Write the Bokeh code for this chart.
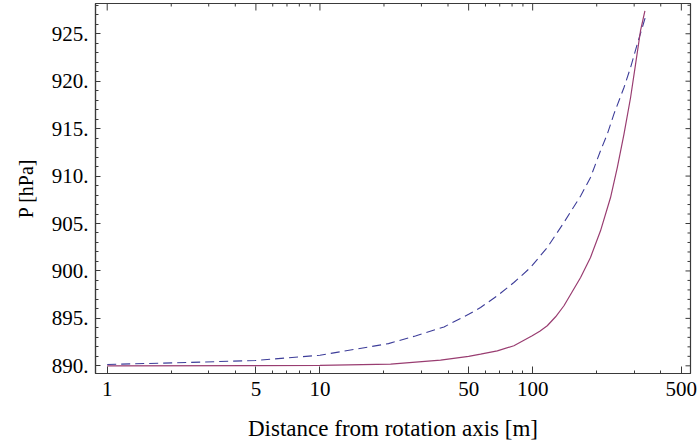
import math
from bokeh.plotting import figure
from bokeh.models import FixedTicker, PrintfTickFormatter, Range1d
from bokeh.embed import file_html
from bokeh.resources import INLINE

# Dashed (blue) series: distance [m], pressure [hPa]
r_dashed = [1, 2.1, 5, 10, 21, 28.1, 38.3, 50, 56.9, 68.2, 81.6, 97.7, 117.1,
            140.3, 168, 187, 208.4, 224.3, 240.9, 268.7, 288.6, 310.2, 327.5, 342]
p_dashed = [890.14, 890.32, 890.56, 891.12, 892.34, 893.15, 894.1, 895.43,
            896.15, 897.38, 898.78, 900.36, 902.47, 905.11, 907.9, 909.85,
            912.67, 914.43, 916.53, 919.34, 921.45, 923.91, 925.66, 927.07]

# Solid (purple) series
r_solid = [1, 5, 10, 21.5, 36.9, 50, 56.9, 68.2, 81.6, 99.5, 108, 117.1, 128.2,
           140.3, 168, 187, 208.4, 232.3, 249.9, 268.7, 288.6, 304.6, 321.4, 337]
p_solid = [890.0, 890.02, 890.05, 890.18, 890.6, 891.0, 891.23, 891.58,
           892.11, 893.16, 893.65, 894.22, 895.17, 896.33, 899.31, 901.42,
           904.23, 907.74, 910.9, 914.43, 918.28, 921.8, 925.32, 927.42]

x_ticks = [1, 5, 10, 50, 100, 500]
x_minor = [2, 3, 4, 6, 7, 8, 9, 20, 30, 40, 60, 70, 80, 90, 200, 300, 400]
y_ticks = [890, 895, 900, 905, 910, 915, 920, 925]
y_minor = list(range(889, 929))

X0, X1 = 0.881, 552
Y0, Y1 = 889.19, 928.19

FRAME = "#3a3a3a"
FONT = "serif"

p = figure(width=699, height=445, x_axis_type="log",
           x_range=Range1d(X0, X1), y_range=Range1d(Y0, Y1),
           output_backend="svg", toolbar_location=None,
           min_border_left=95, min_border_right=9, min_border_top=3,
           min_border_bottom=72)
p.background_fill_color = "white"
p.border_fill_color = "white"
p.outline_line_color = FRAME
p.outline_line_width = 1.2
p.xgrid.visible = False
p.ygrid.visible = False

p.line(r_dashed, p_dashed, line_color="#3d3d99", line_width=1.1, line_dash="9 5")
p.line(r_solid, p_solid, line_color="#993d71", line_width=1.2)

# inward ticks on the top and right edges of the frame
top_major = [t for t in x_ticks if X0 <= t <= X1]
top_minor = [t for t in x_minor if X0 <= t <= X1]
p.ray(x=top_major, y=[Y1] * len(top_major), length=7, length_units="screen",
      angle=-math.pi / 2, line_color=FRAME, line_width=1)
p.ray(x=top_minor, y=[Y1] * len(top_minor), length=3, length_units="screen",
      angle=-math.pi / 2, line_color=FRAME, line_width=1)
right_minor = [t for t in y_minor if t not in y_ticks]
p.ray(x=[X1] * len(y_ticks), y=y_ticks, length=5, length_units="screen",
      angle=math.pi, line_color=FRAME, line_width=1)
p.ray(x=[X1] * len(right_minor), y=right_minor, length=3, length_units="screen",
      angle=math.pi, line_color=FRAME, line_width=1)

xa = p.xaxis[0]
ya = p.yaxis[0]
xa.ticker = FixedTicker(ticks=x_ticks, minor_ticks=x_minor)
ya.ticker = FixedTicker(ticks=y_ticks, minor_ticks=y_minor)
xa.major_tick_in, xa.minor_tick_in = 7, 3
ya.major_tick_in, ya.minor_tick_in = 5, 3

for ax in (xa, ya):
    ax.major_tick_out = 0
    ax.minor_tick_out = 0
    ax.axis_line_color = FRAME
    ax.axis_line_width = 1.2
    ax.major_tick_line_color = FRAME
    ax.minor_tick_line_color = FRAME
    ax.major_label_text_font = FONT
    ax.major_label_text_font_size = "21px"
    ax.major_label_text_color = "black"
    ax.axis_label_text_font = FONT
    ax.axis_label_text_font_style = "normal"
    ax.axis_label_text_color = "black"

xa.formatter = PrintfTickFormatter(format="%d")
xa.major_label_standoff = 8
xa.axis_label = "Distance from rotation axis [m]"
xa.axis_label_text_font_size = "23px"
xa.axis_label_standoff = 17
ya.formatter = PrintfTickFormatter(format="%d.")
ya.major_label_standoff = 7
ya.axis_label = "P [hPa]"
ya.axis_label_text_font_size = "20px"
ya.axis_label_standoff = 12

open("out.html", "w").write(file_html(p, INLINE))
